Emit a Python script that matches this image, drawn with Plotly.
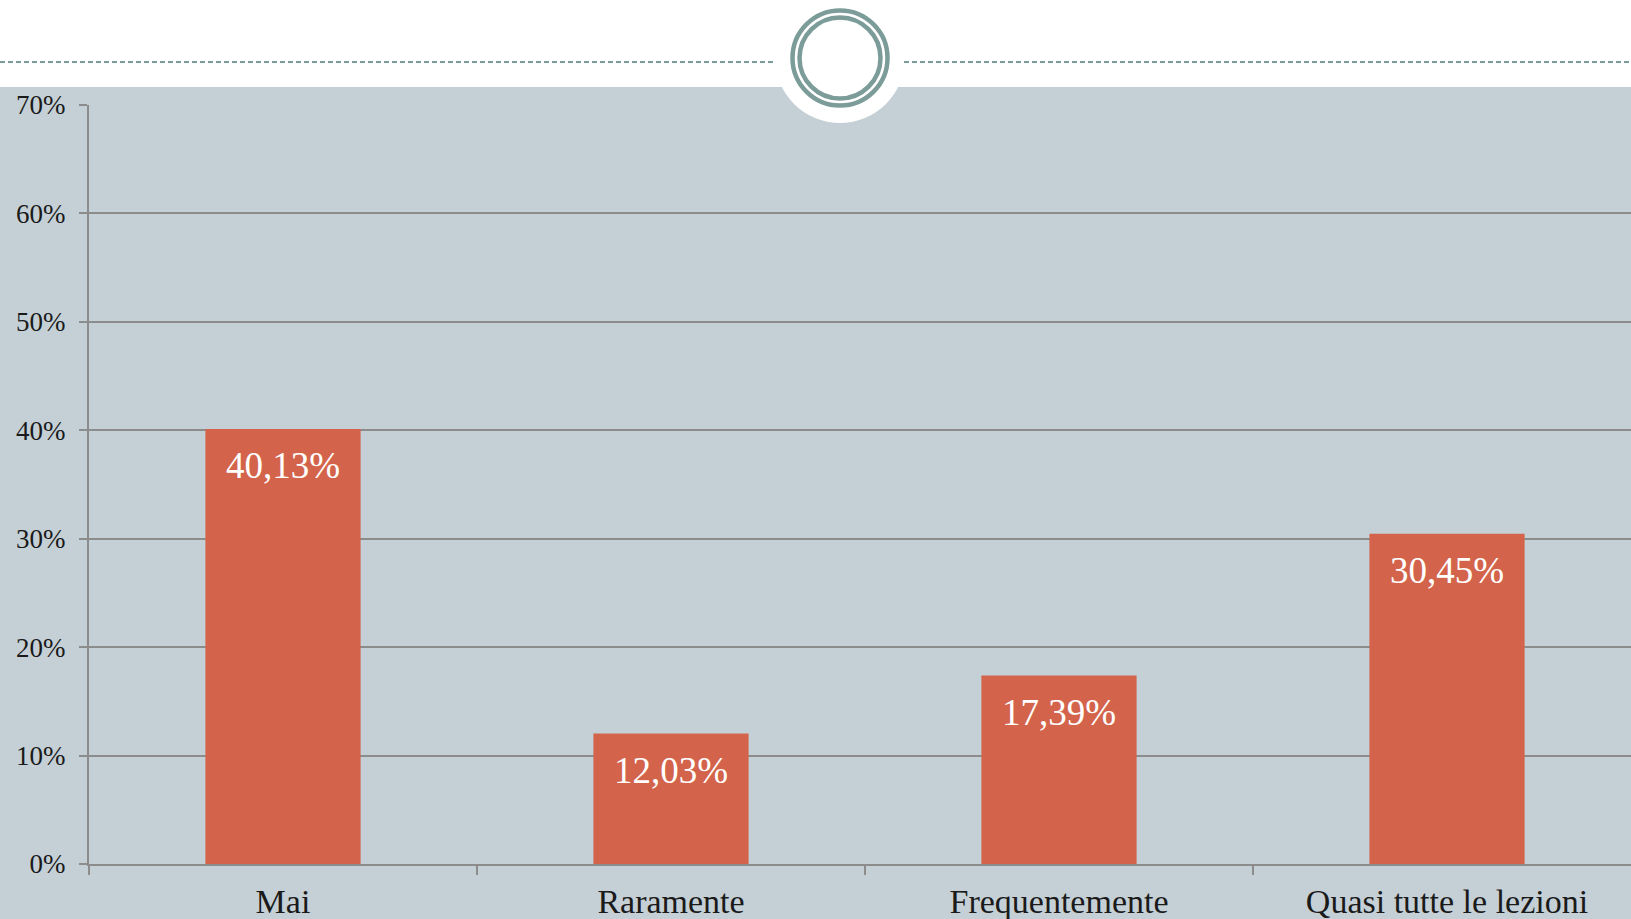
import plotly.graph_objects as go

categories = ["Mai", "Raramente", "Frequentemente", "Quasi tutte le lezioni"]
values = [40.13, 12.03, 17.39, 30.45]
value_labels = ["40,13%", "12,03%", "17,39%", "30,45%"]
y_ticks = [0, 10, 20, 30, 40, 50, 60, 70]
y_tick_labels = ["0%", "10%", "20%", "30%", "40%", "50%", "60%", "70%"]

W, H = 1631, 919
ML, MR, MT, MB = 89, 0, 105, 55
PW, PH = W - ML - MR, H - MT - MB

BG = "#c5d0d6"
BAR = "#d3644b"
GRID = "#8c8c8c"
TEAL = "#7b9c99"
FONT = "Liberation Serif, Times New Roman, serif"


def px_x(x):
    return (x - ML) / PW


def px_y(y):
    return (H - MB - y) / PH


fig = go.Figure()

fig.add_trace(go.Bar(
    x=categories, y=values,
    marker=dict(color=BAR, line=dict(width=0)),
    hoverinfo="skip",
    showlegend=False,
))

for cat, val, lab in zip(categories, values, value_labels):
    fig.add_annotation(
        x=cat, y=val, text=lab, showarrow=False,
        xanchor="center", yanchor="middle", yshift=-37,
        font=dict(family=FONT, size=37, color="white"),
    )

# white header band + disk behind the ring ornament
fig.add_shape(type="rect", xref="paper", yref="paper",
              x0=px_x(-10), x1=px_x(W + 10), y0=px_y(87), y1=px_y(-10),
              fillcolor="white", line=dict(width=0), layer="below")
cx, cy = 840, 58
fig.add_shape(type="circle", xref="paper", yref="paper",
              x0=px_x(cx - 65), x1=px_x(cx + 65), y0=px_y(cy + 65), y1=px_y(cy - 65),
              fillcolor="white", line=dict(width=0), layer="below")
for r in (47.5, 40.5):
    fig.add_shape(type="circle", xref="paper", yref="paper",
                  x0=px_x(cx - r), x1=px_x(cx + r), y0=px_y(cy + r), y1=px_y(cy - r),
                  line=dict(color=TEAL, width=4.5), layer="above")

# dashed header lines
for x0, x1 in ((0, 774), (904, W)):
    fig.add_shape(type="line", xref="paper", yref="paper",
                  x0=px_x(x0), x1=px_x(x1), y0=px_y(62), y1=px_y(62),
                  line=dict(color=TEAL, width=1.8, dash="5px,3px"), layer="above")

fig.update_layout(
    width=W, height=H,
    autosize=False,
    margin=dict(l=ML, r=MR, t=MT, b=MB, pad=0),
    paper_bgcolor=BG,
    plot_bgcolor=BG,
    bargap=0.6,
    font=dict(family=FONT, color="#1a1a1a"),
    xaxis=dict(
        range=[-0.5, -0.5 + PW / 388.0],
        showgrid=False, zeroline=False,
        showline=True, linecolor=GRID, linewidth=2,
        ticks="outside", ticklen=9, tickwidth=2, tickcolor=GRID,
        tickson="boundaries",
        tickfont=dict(family=FONT, size=34, color="#1a1a1a"),
        ticklabelstandoff=6,
    ),
    yaxis=dict(
        range=[0, 70],
        tickvals=y_ticks,
        ticktext=y_tick_labels,
        showgrid=True, gridcolor=GRID, gridwidth=2,
        zeroline=False,
        showline=True, linecolor=GRID, linewidth=2,
        ticks="outside", ticklen=8, tickwidth=2, tickcolor=GRID,
        tickfont=dict(family=FONT, size=27, color="#1a1a1a"),
        ticklabelstandoff=8,
    ),
)

fig.write_html("out.html", config={"displayModeBar": False},
               post_script="document.body.style.margin='0';")
